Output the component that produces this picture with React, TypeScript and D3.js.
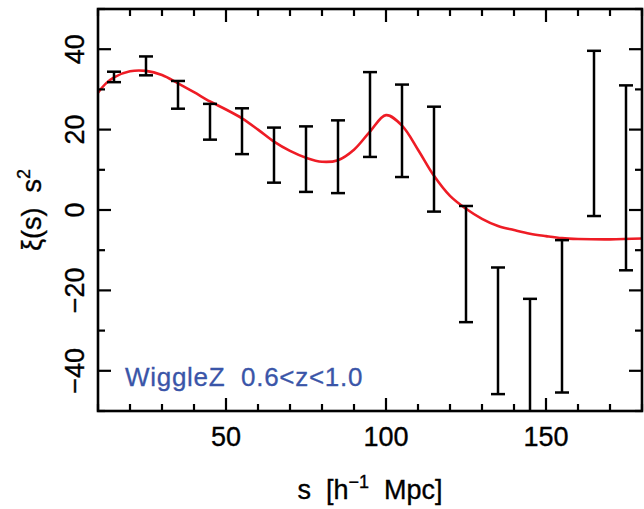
import React from "react";
import * as d3 from "d3";

// Data points (s in h^-1 Mpc), error bar upper / lower of xi(s) s^2
const sValues = [15, 25, 35, 45, 55, 65, 75, 85, 95, 105, 115, 125, 135, 145, 155, 165, 175];
const upperValues = [34.4, 38.2, 32.1, 26.4, 25.3, 20.5, 20.8, 22.3, 34.3, 31.2, 25.7, 1.0, -14.3, -22.1, -7.5, 39.6, 31.0];
const lowerValues = [31.8, 33.5, 25.2, 17.5, 13.9, 6.8, 4.5, 4.2, 13.2, 8.2, -0.4, -27.9, -45.8, -60, -45.4, -1.5, -15.0];

// Model curve
const modelS = [10, 12.5, 15, 20, 25, 30, 35, 40, 45, 50, 55, 60, 65, 70, 75, 80, 85, 90, 95, 100, 105, 110, 115, 120, 125, 130, 135, 140, 145, 150, 155, 160, 170, 180];
const modelXi = [29.2, 31.5, 33.0, 34.5, 34.6, 33.6, 31.5, 29.3, 27.0, 25.0, 22.8, 20.0, 17.0, 14.7, 13.0, 12.0, 12.4, 15.0, 19.5, 23.6, 21.0, 15.0, 8.5, 3.5, 0.3, -2.2, -4.0, -5.0, -5.9, -6.5, -7.0, -7.2, -7.3, -7.1];

const xMajor = [50, 100, 150];
const yMajor = [40, 20, 0, -20, -40];
const label = "WiggleZ  0.6<z<1.0";

const W = 644, H = 509;
const L = 98, R = 642, T = 9, B = 411;
const FONT = "'Liberation Sans', Arial, Helvetica, sans-serif";

export default function App() {
  const x = d3.scaleLinear().domain([10, 180]).range([L, R]);
  const y = d3.scaleLinear().domain([-50, 50]).range([B, T]);
  const xMinor = d3.range(10, 181, 10);
  const yMinor = d3.range(-50, 51, 10);
  const line = d3
    .line<number>()
    .x((_, i) => x(modelS[i]))
    .y((d) => y(d))
    .curve(d3.curveCatmullRom.alpha(0.5));
  const fmt = (v: number) => (v < 0 ? "\u2212" + Math.abs(v) : String(v));
  const cap = 7;
  const major = 13, minor = 7;
  const txt = { fontSize: 27, stroke: "#000", strokeWidth: 0.35 } as const;

  return (
    <svg width={W} height={H} style={{ position: "absolute", left: 0, top: 0, background: "#fff" }} fontFamily={FONT}>
      <defs>
        <clipPath id="plot">
          <rect x={L} y={T} width={R - L} height={B - T} />
        </clipPath>
      </defs>
      <g clipPath="url(#plot)">
        <path d={line(modelXi) || ""} fill="none" stroke="#ee1c25" strokeWidth={2.6} />
        {sValues.map((s, i) => (
          <g key={s} stroke="#000" strokeWidth={2.5}>
            <line x1={x(s)} x2={x(s)} y1={y(upperValues[i])} y2={y(lowerValues[i])} />
            <line x1={x(s) - cap} x2={x(s) + cap} y1={y(upperValues[i])} y2={y(upperValues[i])} />
            <line x1={x(s) - cap} x2={x(s) + cap} y1={y(lowerValues[i])} y2={y(lowerValues[i])} />
          </g>
        ))}
      </g>
      {/* ticks */}
      <g stroke="#000" strokeWidth={2.2}>
        {xMinor.map((v) => {
          const len = xMajor.includes(v) ? major : minor;
          return (
            <g key={"x" + v}>
              <line x1={x(v)} x2={x(v)} y1={B} y2={B - len} />
              <line x1={x(v)} x2={x(v)} y1={T} y2={T + len} />
            </g>
          );
        })}
        {yMinor.map((v) => {
          const len = yMajor.includes(v) ? major : minor;
          return (
            <g key={"y" + v}>
              <line x1={L} x2={L + len} y1={y(v)} y2={y(v)} />
              <line x1={R} x2={R - len} y1={y(v)} y2={y(v)} />
            </g>
          );
        })}
      </g>
      <rect x={L} y={T} width={R - L} height={B - T} fill="none" stroke="#000" strokeWidth={2.6} />
      {/* tick labels */}
      {xMajor.map((v) => (
        <text key={"xl" + v} x={x(v)} y={446} textAnchor="middle" {...txt}>
          {v}
        </text>
      ))}
      {yMajor.map((v) => (
        <text key={"yl" + v} transform={`translate(84,${y(v)}) rotate(-90)`} textAnchor="middle" {...txt}>
          {fmt(v)}
        </text>
      ))}
      {/* axis titles */}
      <text x={(L + R) / 2} y={499} textAnchor="middle" xmlSpace="preserve" {...txt}>
        {"s  [h"}
        <tspan fontSize={18} dy={-11}>{"\u22121"}</tspan>
        <tspan dy={11}>{"  Mpc]"}</tspan>
      </text>
      <text transform={`translate(41,${(T + B) / 2}) rotate(-90)`} textAnchor="middle" xmlSpace="preserve" {...txt}>
        {"\u03BE(s)  s"}
        <tspan fontSize={18} dy={-11}>2</tspan>
      </text>
      <text x={125} y={386} fontSize={26} letterSpacing={0.7} fill="#3a55a8" stroke="#3a55a8" strokeWidth={0.3} xmlSpace="preserve">
        {label}
      </text>
    </svg>
  );
}
